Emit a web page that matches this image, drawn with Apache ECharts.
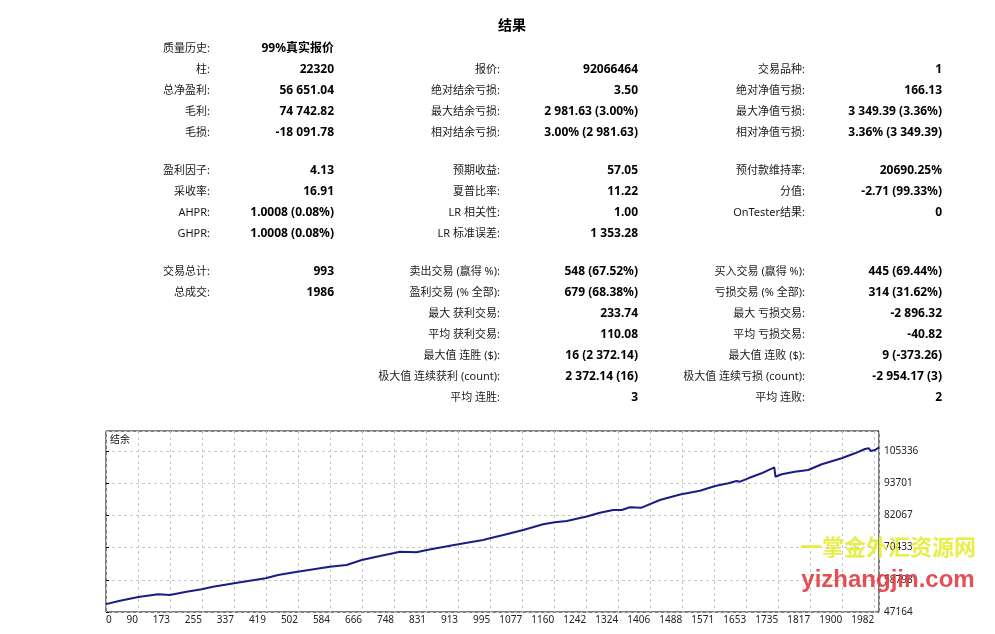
<!DOCTYPE html>
<html>
<head>
<meta charset="utf-8">
<title>结果</title>
<script src="https://cdn.jsdelivr.net/npm/echarts@6.0.0/dist/echarts.min.js"></script>
<style>
html, body { margin: 0; padding: 0; background: #fff; }
#main { width: 995px; height: 634px; }
</style>
</head>
<body>
<div id="main"></div>
<script>
// report table, one entry per row, '' means empty cell
var leftLabels = ['质量历史:', '柱:', '总净盈利:', '毛利:', '毛损:',
    '盈利因子:', '采收率:', 'AHPR:', 'GHPR:',
    '交易总计:', '总成交:', '', '', '', '', ''];
var leftValues = ['99%真实报价', '22320', '56 651.04', '74 742.82', '-18 091.78',
    '4.13', '16.91', '1.0008 (0.08%)', '1.0008 (0.08%)',
    '993', '1986', '', '', '', '', ''];
var midLabels = ['', '报价:', '绝对结余亏损:', '最大结余亏损:', '相对结余亏损:',
    '预期收益:', '夏普比率:', 'LR 相关性:', 'LR 标准误差:',
    '卖出交易 (赢得 %):', '盈利交易 (% 全部):', '最大 获利交易:', '平均 获利交易:',
    '最大值 连胜 ($):', '极大值 连续获利 (count):', '平均 连胜:'];
var midValues = ['', '92066464', '3.50', '2 981.63 (3.00%)', '3.00% (2 981.63)',
    '57.05', '11.22', '1.00', '1 353.28',
    '548 (67.52%)', '679 (68.38%)', '233.74', '110.08',
    '16 (2 372.14)', '2 372.14 (16)', '3'];
var rightLabels = ['', '交易品种:', '绝对净值亏损:', '最大净值亏损:', '相对净值亏损:',
    '预付款维持率:', '分值:', 'OnTester结果:', '',
    '买入交易 (赢得 %):', '亏损交易 (% 全部):', '最大 亏损交易:', '平均 亏损交易:',
    '最大值 连败 ($):', '极大值 连续亏损 (count):', '平均 连败:'];
var rightValues = ['', '1', '166.13', '3 349.39 (3.36%)', '3.36% (3 349.39)',
    '20690.25%', '-2.71 (99.33%)', '0', '',
    '445 (69.44%)', '314 (31.62%)', '-2 896.32', '-40.82',
    '9 (-373.26)', '-2 954.17 (3)', '2'];

// balance curve (trade number, balance)
var tradeNo = [0, 36, 83, 134, 164, 207, 246, 275, 329, 410, 442, 492, 575, 618, 657,
    704, 741, 755, 798, 824, 884, 905, 969, 986, 1021, 1072, 1123, 1153, 1184, 1235,
    1269, 1303, 1325, 1346, 1376, 1423, 1475, 1526, 1565, 1599, 1620, 1629, 1650, 1684,
    1717, 1720, 1736, 1770, 1804, 1839, 1856, 1890, 1924, 1950, 1960, 1965, 1976, 1986];
var balance = [50000, 51247, 52584, 53559, 53306, 54498, 55366, 56305, 57533, 59340, 60532, 61724, 63531, 64145, 65952,
    67397, 68481, 68951, 68734, 69565, 71118, 71624, 73178, 73792, 74984, 76791, 78850, 79573, 80043, 81669,
    83042, 84017, 84017, 84993, 84848, 87630, 89617, 90990, 92688, 93664, 94495, 94242, 95470, 97277,
    99445, 96049, 96916, 97855, 98469, 100529, 101251, 102696, 104503, 106056, 106309, 105334, 105695, 106651];

var xTickLabels = ['0', '90', '173', '255', '337', '419', '502', '584', '666', '748', '831', '913',
    '995', '1077', '1160', '1242', '1324', '1406', '1488', '1571', '1653', '1735', '1817', '1900', '1982'];
var xMax = 1986;
var xStep = 82.236;
var yMin = 47164;
var yStep = 11634.35;
var yMax = 112559;

var rowY = [49, 70, 91, 112, 133, 171, 192, 213, 234, 272, 293, 314, 335, 356, 377, 398];
var FONT = '"Noto Sans", "Noto Sans CJK SC", sans-serif';

function cell(text, x, y, bold)
{
    return {
        type: 'text',
        silent: true,
        style: {
            text: text,
            x: x,
            y: y,
            textAlign: 'right',
            textVerticalAlign: 'middle',
            font: bold ? 'bold 12px ' + FONT : '11px ' + FONT,
            fill: bold ? '#000' : '#1a1a1a'
        }
    };
}

var table = [];
var cols = [
    [leftLabels, 210, false], [leftValues, 334, true],
    [midLabels, 500, false], [midValues, 638, true],
    [rightLabels, 805, false], [rightValues, 942, true]
];
cols.forEach(function (c) {
    c[0].forEach(function (t, i) {
        if (t !== '')
            table.push(cell(t, c[1], rowY[i], c[2]));
    });
});

table.push({
    type: 'text', silent: true,
    style: { text: '结果', x: 512, y: 26, textAlign: 'center', textVerticalAlign: 'middle',
        font: 'bold 14px ' + FONT, fill: '#000' }
});
table.push({
    type: 'text', silent: true,
    style: { text: '结余', x: 110, y: 440, textAlign: 'left', textVerticalAlign: 'middle',
        font: '10px ' + FONT, fill: '#111' }
});
// site stamp over the chart
table.push({
    type: 'text', silent: true, z: 100,
    style: { text: '一掌金外汇资源网', x: 888, y: 547, textAlign: 'center', textVerticalAlign: 'middle',
        font: 'bold 22px "Noto Sans CJK SC", sans-serif', fill: 'rgba(228,236,50,0.88)',
        shadowColor: 'rgba(0,0,0,0.35)', shadowOffsetX: 1, shadowOffsetY: 1, shadowBlur: 1 }
});
table.push({
    type: 'text', silent: true, z: 100,
    style: { text: 'yizhangjin.com', x: 888, y: 580, textAlign: 'center', textVerticalAlign: 'middle',
        font: 'bold 24px "Liberation Sans", sans-serif', fill: 'rgba(224,60,66,0.9)' }
});

var chart = echarts.init(document.getElementById('main'), null, { renderer: 'canvas' });
var gridLine = { show: true, lineStyle: { color: '#c8c8c8', type: [3, 3], width: 1 } };

var option = {
    animation: false,
    backgroundColor: '#fff',
    grid: {
        left: 106, right: 116, top: 431, bottom: 22,
        show: true, borderColor: '#000', borderWidth: 1, backgroundColor: 'transparent'
    },
    xAxis: {
        type: 'value',
        min: 0,
        max: xMax,
        interval: xStep,
        axisLine: { show: false },
        axisTick: { show: false },
        splitLine: gridLine,
        axisLabel: {
            fontSize: 10,
            fontFamily: FONT,
            color: '#222',
            margin: 3,
            align: 'right',
            alignMinLabel: 'left',
            showMinLabel: true,
            showMaxLabel: false,
            formatter: function (v) {
                var i = Math.round(v / xStep);
                return xTickLabels[i] || '';
            }
        }
    },
    yAxis: {
        type: 'value',
        position: 'right',
        min: yMin,
        max: yMax,
        interval: yStep,
        axisLine: { show: false },
        axisTick: { show: true, length: 3, lineStyle: { color: '#000' } },
        splitLine: gridLine,
        axisLabel: {
            fontSize: 10,
            fontFamily: FONT,
            color: '#222',
            margin: 5,
            showMinLabel: true,
            showMaxLabel: false,
            formatter: function (v) { return String(Math.round(v)); }
        }
    },
    series: [{
        type: 'line',
        name: '结余',
        data: tradeNo.map(function (t, i) { return [t, balance[i]]; }),
        showSymbol: false,
        symbol: 'none',
        lineStyle: { color: '#1c1c86', width: 2 }
    }],
    graphic: table
};

chart.setOption(option);
</script>
</body>
</html>
